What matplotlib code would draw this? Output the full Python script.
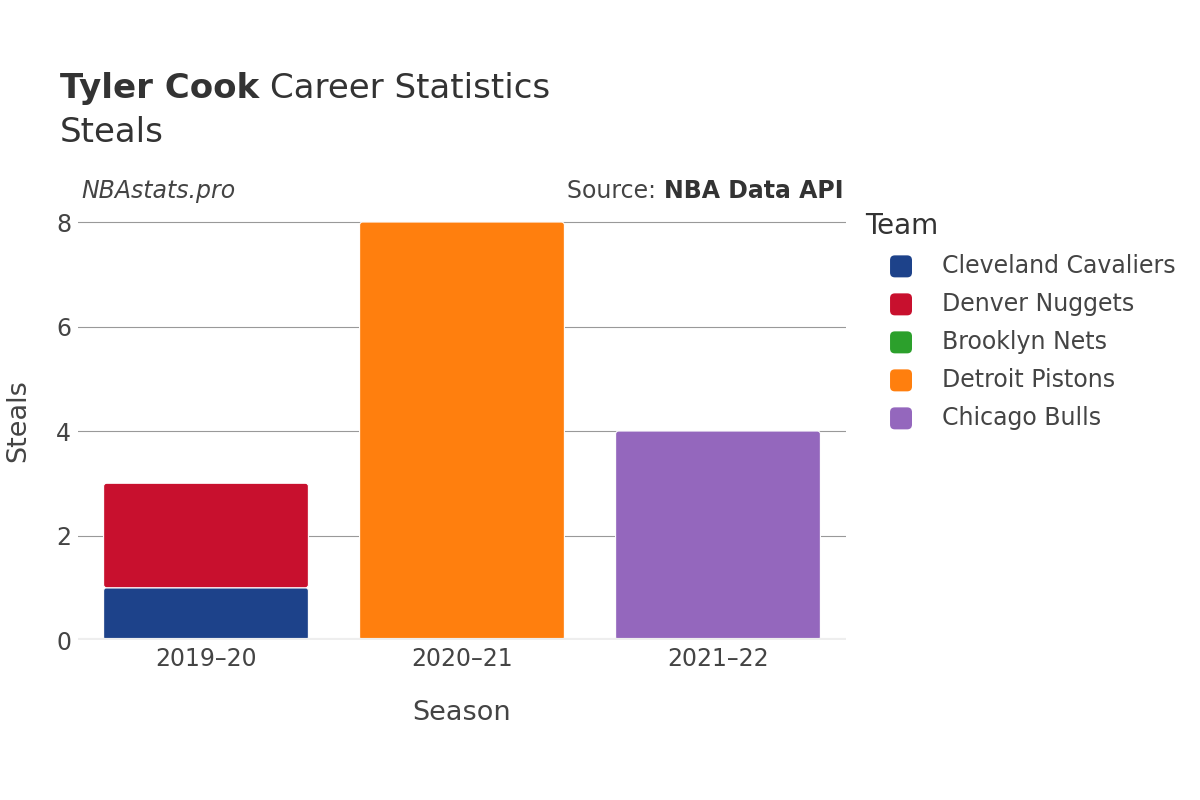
import matplotlib.pyplot as plt
from matplotlib.patches import FancyBboxPatch
import numpy as np

# Data
seasons = ['2019–20', '2020–21', '2021–22']
teams = ['Cleveland Cavaliers', 'Denver Nuggets', 'Brooklyn Nets', 'Detroit Pistons', 'Chicago Bulls']
colors = ['#1d428a', '#c8102e', '#2ca02c', '#ff7f0e', '#9467bd']
cleveland = [1, 0, 0]
denver = [2, 0, 0]
brooklyn = [0, 0, 0]
detroit = [0, 8, 0]
chicago = [0, 0, 4]
series = [cleveland, denver, brooklyn, detroit, chicago]

plt.rcParams['font.family'] = ['DejaVu Sans']
text_color = '#444444'

fig = plt.figure(figsize=(12, 8), dpi=100, facecolor='white')
ax = fig.add_axes([0.065, 0.2, 0.64, 0.5486])
ax.set_xlim(-0.5, 2.5)
ax.set_ylim(0, 8.4)

# rounding of the bar corners, in data units (about 3 px)
ax_w_px = 0.64 * 1200
ax_h_px = 0.5486 * 800
rx = 3 * 3.0 / ax_w_px
aspect = (8.4 / ax_h_px) / (3.0 / ax_w_px)

x = np.arange(len(seasons))
width = 0.8
bottom = np.zeros(len(seasons))
for vals, col in zip(series, colors):
    for i, v in enumerate(vals):
        if v > 0:
            p = FancyBboxPatch((x[i] - width / 2, bottom[i]), width, v,
                               boxstyle='round,pad=0,rounding_size=%f' % rx,
                               mutation_aspect=aspect, facecolor=col,
                               edgecolor='white', linewidth=0.8, zorder=3)
            ax.add_patch(p)
    bottom += np.array(vals, dtype=float)

ax.set_yticks([0, 2, 4, 6, 8])
ax.set_xticks(x)
ax.set_xticklabels(seasons)
ax.grid(axis='y', color='#999999', linewidth=0.8, zorder=0)
ax.axhline(0, color='#eeeeee', linewidth=3, zorder=4)
for s in ax.spines.values():
    s.set_visible(False)
ax.tick_params(axis='both', length=0, labelsize=17, colors=text_color, pad=5)
ax.set_xlabel('Season', fontsize=19.5, color=text_color, labelpad=21)
ax.set_ylabel('Steals', fontsize=19.5, color=text_color, labelpad=18)

# Titles
fig.canvas.draw()
rend = fig.canvas.get_renderer()
t1 = fig.text(0.05, 0.889, 'Tyler Cook', fontsize=24.5, fontweight='bold', color='#333333', va='center')
bb = t1.get_window_extent(renderer=rend)
fig.text(bb.x1 / 1200 + 0.009, 0.889, 'Career Statistics', fontsize=24.5, color='#333333', va='center')
fig.text(0.05, 0.835, 'Steals', fontsize=24.5, color='#333333', va='center')

fig.text(0.068, 0.761, 'NBAstats.pro', fontsize=17, style='italic', color=text_color, va='center')
src = fig.text(0.7025, 0.761, 'NBA Data API', fontsize=17, fontweight='bold', color='#333333',
               va='center', ha='right')
bb = src.get_window_extent(renderer=rend)
fig.text(bb.x0 / 1200, 0.761, 'Source: ', fontsize=17, color=text_color, va='center', ha='right')

# Legend drawn by hand
fig.text(0.721, 0.717, 'Team', fontsize=20, color='#333333', va='center')
for i, (team, col) in enumerate(zip(teams, colors)):
    yy = 0.667 - i * 0.0475
    fig.add_artist(FancyBboxPatch((0.7417, yy - 0.0137), 0.0183, 0.0275,
                                  boxstyle='round,pad=0,rounding_size=0.004',
                                  mutation_aspect=1.5, transform=fig.transFigure,
                                  facecolor=col, edgecolor='none'))
    fig.text(0.785, yy, team, fontsize=17, color=text_color, va='center')

plt.savefig('out.png', dpi=100, facecolor='white')
